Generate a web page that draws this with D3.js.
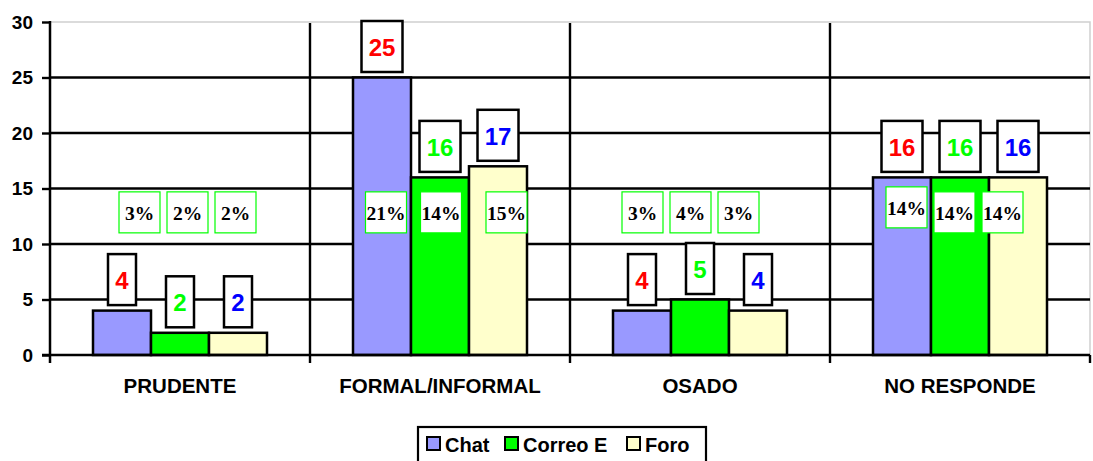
<!DOCTYPE html>
<html>
<head>
<meta charset="utf-8">
<script src="https://cdn.jsdelivr.net/npm/d3@7"></script>
<style>
  html, body { margin: 0; padding: 0; background: #fff; overflow: hidden; }
</style>
</head>
<body>
<div id="chart"></div>
<script>
// Data
categories = ['PRUDENTE', 'FORMAL/INFORMAL', 'OSADO', 'NO RESPONDE'];
seriesNames = ['Chat', 'Correo E', 'Foro'];
chatValues = [4, 25, 4, 16];
correoValues = [2, 16, 5, 16];
foroValues = [2, 17, 4, 16];
chatPct = ['3%', '21%', '3%', '14%'];
correoPct = ['2%', '14%', '4%', '14%'];
foroPct = ['2%', '15%', '3%', '14%'];
yTicks = [0, 5, 10, 15, 20, 25, 30];

// Styles
barColors = ({'Chat': '#9999ff', 'Correo E': '#00ff00', 'Foro': '#ffffcc'});
labelColors = ({'Chat': '#ff0000', 'Correo E': '#00ff00', 'Foro': '#0000ff'});

// Percent boxes were hand-placed in the original; small nudges per box (px)
pctNudge = [
    [[17.5, 0], [7.5, 0], [-2.5, 0]],
    [[4, 0], [1, 0], [8.5, 0]],
    [[0.5, 0], [-9.5, 0], [-19.5, 0]],
    [[4.5, -5], [-5.5, 0], [-15.5, 0]]
];
pctLevel = 12.85;

width = 1093;
height = 461;
margin = ({top: 22, right: 3, bottom: 106, left: 50});

sansFont = "'Liberation Sans', Arial, sans-serif";
serifFont = "'Liberation Serif', 'Times New Roman', serif";

buildRows = function() {
    const values = [chatValues, correoValues, foroValues];
    const pcts = [chatPct, correoPct, foroPct];
    return categories.map((c, i) => ({
        category: c,
        items: seriesNames.map((s, j) => ({
            series: s, value: values[j][i], pct: pcts[j][i],
            nudge: pctNudge[i][j]
        }))
    }));
};

createBoard = function(selector) {
    const rows = buildRows();
    const svg = d3.select(selector).append("svg")
        .attr("width", width)
        .attr("height", height)
        .attr("viewBox", [0, 0, width, height]);

    const x0 = d3.scaleBand()
        .domain(categories)
        .range([margin.left, width - margin.right]);
    const groupPad = (x0.bandwidth() - 174) / 2;
    const x1 = d3.scaleBand()
        .domain(seriesNames)
        .range([groupPad, x0.bandwidth() - groupPad]);
    const y = d3.scaleLinear()
        .domain([0, 30])
        .range([height - margin.bottom, margin.top]);

    const x0s = y(0);
    const right = width - margin.right;

    // plot area border (light grey)
    svg.append("path")
        .attr("d", `M${margin.left},${y(30)}H${right}V${x0s}`)
        .attr("fill", "none")
        .attr("stroke", "#d0d0d0")
        .attr("stroke-width", 1.5);

    // horizontal grid
    svg.append("g")
        .selectAll("line")
        .data(yTicks.filter(t => t > 0 && t < 30))
        .join("line")
        .attr("x1", margin.left)
        .attr("x2", right)
        .attr("y1", d => y(d))
        .attr("y2", d => y(d))
        .attr("stroke", "#000")
        .attr("stroke-width", 2.4);

    // vertical separators between categories, with ticks below axis
    const bounds = categories.slice(1).map(c => x0(c));
    svg.append("g")
        .selectAll("line")
        .data(bounds)
        .join("line")
        .attr("x1", d => d)
        .attr("x2", d => d)
        .attr("y1", y(30) + 1)
        .attr("y2", x0s + 8)
        .attr("stroke", "#000")
        .attr("stroke-width", 2.4);
    svg.append("line")
        .attr("x1", right).attr("x2", right)
        .attr("y1", x0s).attr("y2", x0s + 8)
        .attr("stroke", "#000")
        .attr("stroke-width", 2.4);

    // y axis
    const yAxis = g => g
        .attr("transform", `translate(${margin.left},0)`)
        .call(d3.axisLeft(y).tickValues(yTicks).tickSize(8).tickPadding(9))
        .call(g => g.select(".domain").remove())
        .call(g => g.selectAll(".tick line")
            .attr("stroke", "#000")
            .attr("stroke-width", 2.4))
        .call(g => g.selectAll(".tick text")
            .attr("font-family", sansFont)
            .attr("font-weight", "bold")
            .attr("font-size", "19px")
            .attr("fill", "#000"));
    svg.append("g").call(yAxis);
    svg.append("line")
        .attr("x1", margin.left).attr("x2", margin.left)
        .attr("y1", y(30) - 1).attr("y2", x0s + 8)
        .attr("stroke", "#000")
        .attr("stroke-width", 2.5);

    // bars
    const groups = svg.append("g")
        .selectAll("g")
        .data(rows)
        .join("g")
        .attr("transform", d => `translate(${x0(d.category)},0)`);

    groups.selectAll("rect")
        .data(d => d.items)
        .join("rect")
        .attr("x", d => x1(d.series))
        .attr("y", d => y(d.value))
        .attr("width", x1.bandwidth())
        .attr("height", d => y(0) - y(d.value))
        .attr("fill", d => barColors[d.series])
        .attr("stroke", "#000")
        .attr("stroke-width", 2.5);

    // x axis line
    svg.append("line")
        .attr("x1", margin.left - 8).attr("x2", right)
        .attr("y1", x0s).attr("y2", x0s)
        .attr("stroke", "#000")
        .attr("stroke-width", 2.5);

    // percent boxes
    const pct = groups.selectAll("g.pct")
        .data(d => d.items)
        .join("g")
        .attr("class", "pct")
        .attr("transform", d =>
            `translate(${x1(d.series) + x1.bandwidth() / 2 + d.nudge[0]},${y(pctLevel) + d.nudge[1]})`);
    pct.append("rect")
        .attr("x", -20.5)
        .attr("y", -20.5)
        .attr("width", 41)
        .attr("height", 41)
        .attr("fill", "#fff")
        .attr("stroke", "#00ff00")
        .attr("stroke-width", 1.2);
    pct.append("text")
        .attr("text-anchor", "middle")
        .attr("y", 7.5)
        .attr("font-family", serifFont)
        .attr("font-weight", "bold")
        .attr("font-size", "19.5px")
        .attr("fill", "#000")
        .text(d => d.pct);

    // value boxes
    const lab = groups.selectAll("g.val")
        .data(d => d.items)
        .join("g")
        .attr("class", "val")
        .attr("transform", d =>
            `translate(${x1(d.series) + x1.bandwidth() / 2},${y(d.value) - 5.5})`);
    lab.append("rect")
        .attr("x", d => -(String(d.value).length > 1 ? 41 : 28) / 2)
        .attr("y", -51)
        .attr("width", d => String(d.value).length > 1 ? 41 : 28)
        .attr("height", 51)
        .attr("fill", "#fff")
        .attr("stroke", "#000")
        .attr("stroke-width", 2.5);
    lab.append("text")
        .attr("text-anchor", "middle")
        .attr("y", -16)
        .attr("font-family", sansFont)
        .attr("font-weight", "bold")
        .attr("font-size", "24px")
        .attr("fill", d => labelColors[d.series])
        .text(d => d.value);

    // category labels
    svg.append("g")
        .selectAll("text")
        .data(categories)
        .join("text")
        .attr("x", d => x0(d) + x0.bandwidth() / 2)
        .attr("y", 392.5)
        .attr("text-anchor", "middle")
        .attr("font-family", sansFont)
        .attr("font-weight", "bold")
        .attr("font-size", "20.5px")
        .attr("fill", "#000")
        .text(d => d);

    createLegend(svg);
};

createLegend = function(svg) {
    const legend = svg.append("g").attr("transform", "translate(418,427)");
    legend.append("rect")
        .attr("width", 288)
        .attr("height", 50)
        .attr("fill", "#fff")
        .attr("stroke", "#000")
        .attr("stroke-width", 2.2);
    const swatchX = [9, 87, 209];
    const item = legend.selectAll("g")
        .data(seriesNames)
        .join("g")
        .attr("transform", (d, i) => `translate(${swatchX[i]},10)`);
    item.append("rect")
        .attr("width", 13)
        .attr("height", 13)
        .attr("fill", d => barColors[d])
        .attr("stroke", "#000")
        .attr("stroke-width", 2);
    item.append("text")
        .attr("x", 18)
        .attr("y", 14.5)
        .attr("font-family", sansFont)
        .attr("font-weight", "bold")
        .attr("font-size", "20px")
        .attr("fill", "#000")
        .text(d => d);
};

createBoard("#chart");
</script>
</body>
</html>
